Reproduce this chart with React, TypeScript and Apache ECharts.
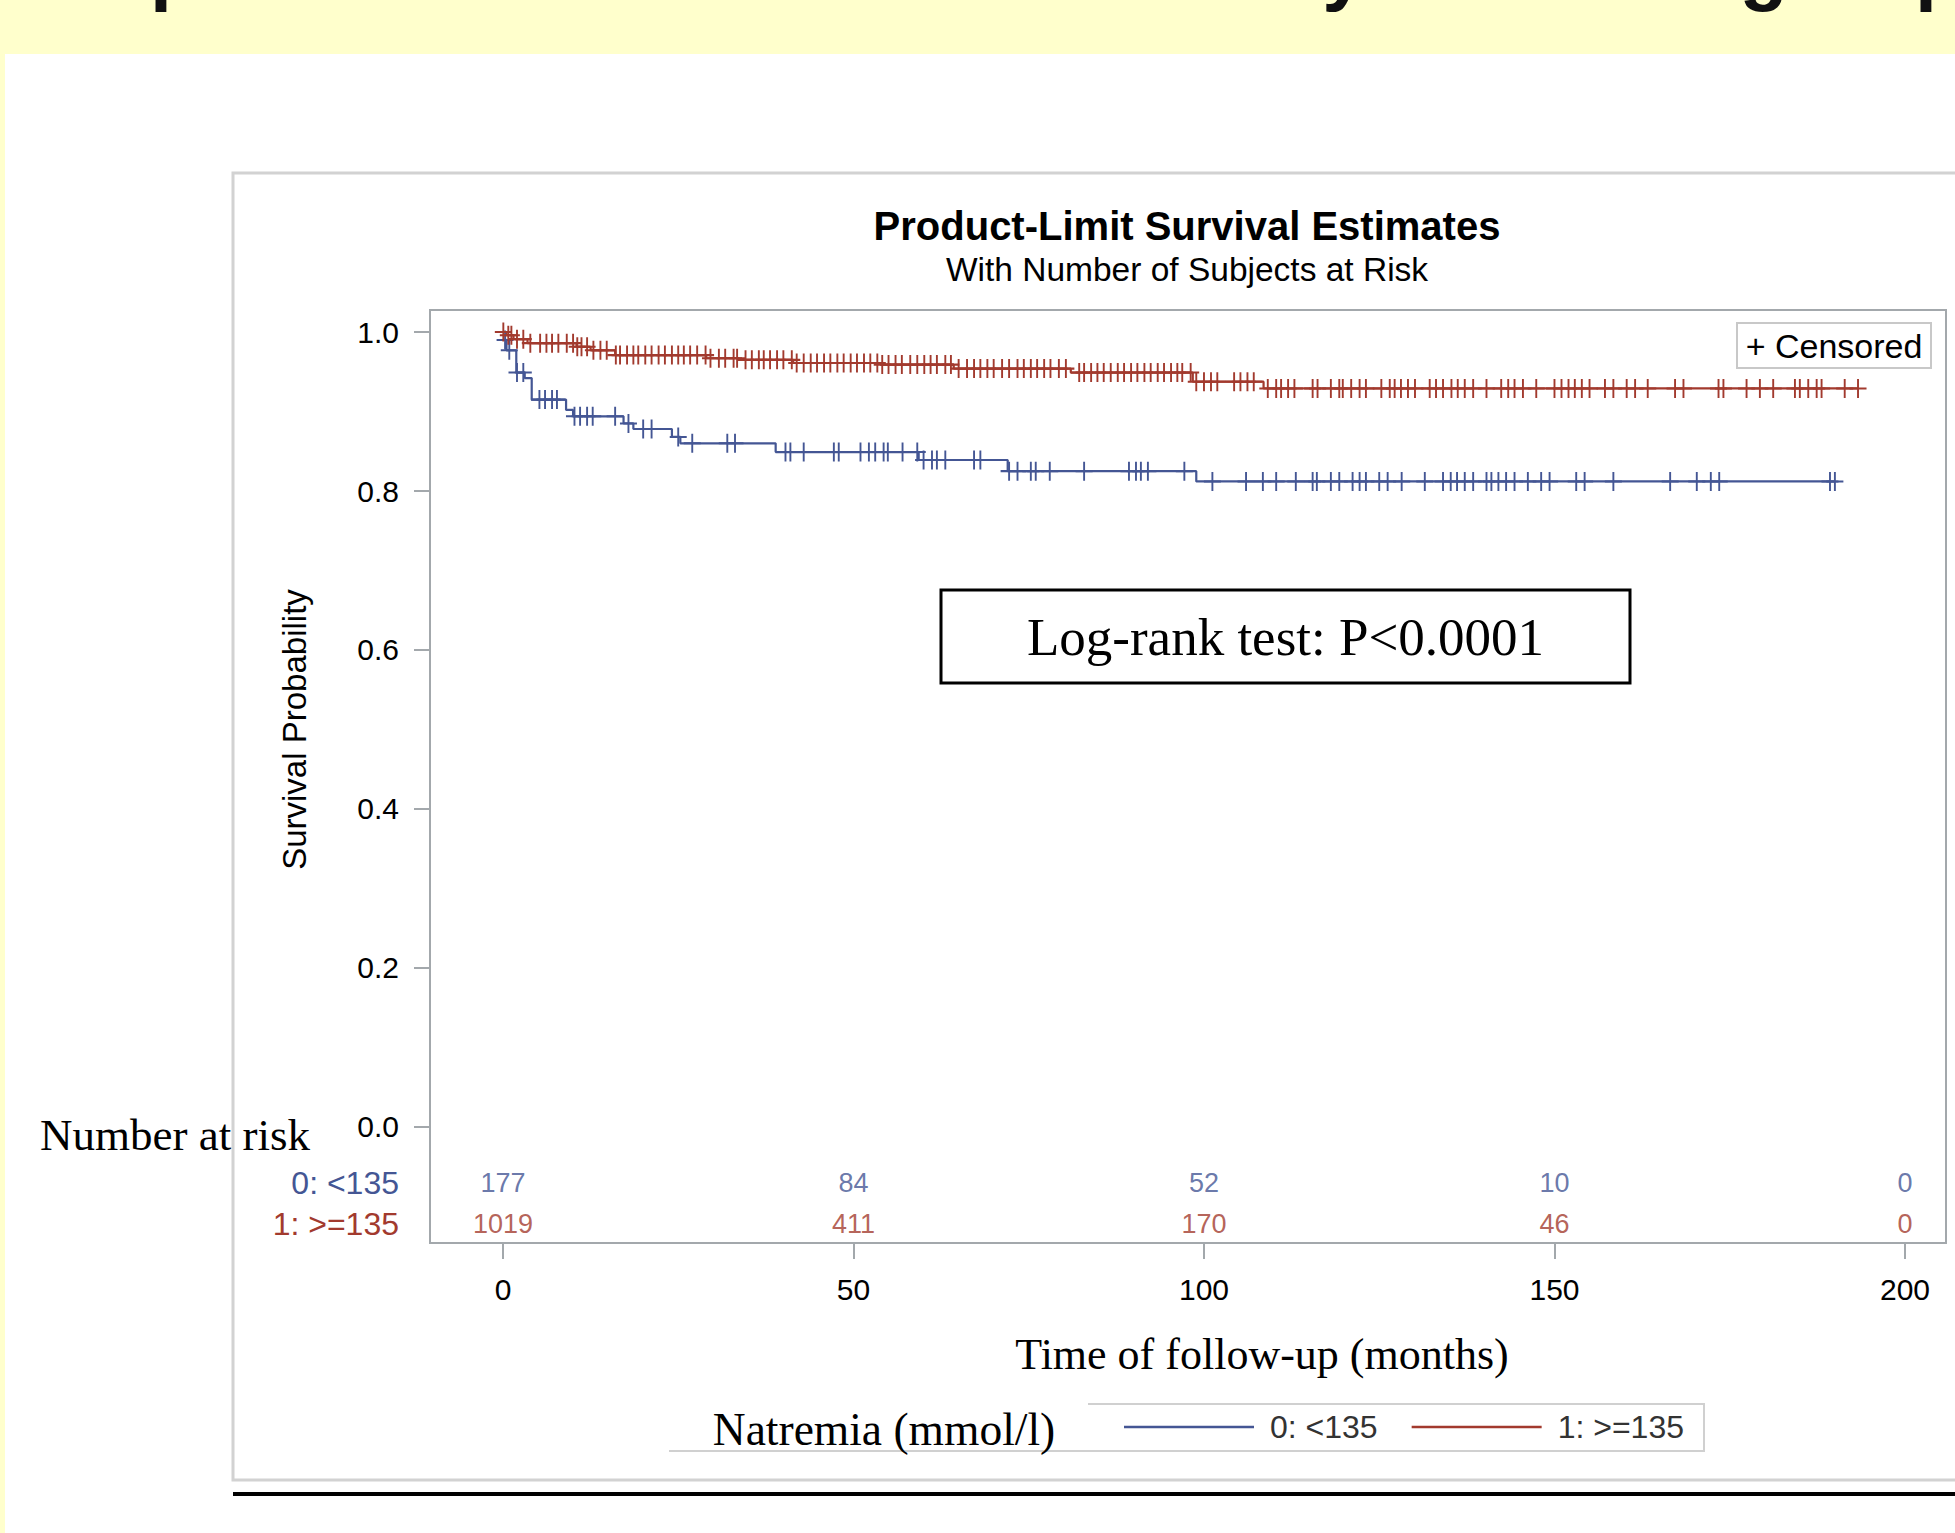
import React, { useEffect, useRef } from 'react';
import * as echarts from 'echarts';

// ---------- data ----------
const groupNames = ['0: <135', '1: >=135'];
const groupColors = ['#445694', '#A23A2E'];

// Kaplan-Meier step points (time in months, survival probability)
const blueTimes = [0, 0.5, 1.9, 3.1, 4.1, 9.0, 10.0, 17.2, 18.6, 24.1, 25.3, 38.9, 59.3, 72.0, 98.9, 190.0];
const blueSurv = [0.99, 0.977, 0.949, 0.942, 0.915, 0.902, 0.894, 0.885, 0.878, 0.868, 0.86, 0.849, 0.839, 0.825, 0.812, 0.812];
const redTimes = [0, 0.5, 1.5, 3.5, 10.5, 12.5, 16.0, 29.0, 33.6, 41.4, 54.0, 64.3, 81.0, 98.4, 108.5, 193.3];
const redSurv = [1.0, 0.996, 0.991, 0.986, 0.9815, 0.977, 0.971, 0.967, 0.965, 0.961, 0.959, 0.954, 0.949, 0.9375, 0.929, 0.929];

// censoring times
const blueCensor = [0.3, 0.9, 2.0, 2.9, 5.2, 6.0, 7.0, 7.7, 10.2, 11.0, 12.0, 12.8, 16.0, 17.9, 20.0, 21.2, 25.0, 27.0, 32.0, 33.1, 40.3, 41.0, 42.9, 47.2, 47.9, 51.0, 52.2, 53.1, 54.3, 54.9, 57.0, 59.1, 60.0, 61.2, 61.9, 63.1, 67.2, 68.1, 72.2, 73.4, 75.3, 76.0, 78.0, 82.9, 89.3, 90.3, 91.0, 92.0, 97.2, 101.2, 106.0, 108.4, 110.3, 113.1, 115.5, 116.1, 118.1, 119.3, 121.2, 122.2, 123.1, 125.0, 126.2, 128.2, 131.5, 134.1, 135.2, 136.1, 137.2, 138.4, 140.3, 141.0, 142.0, 143.1, 144.3, 146.2, 148.1, 149.3, 153.1, 154.3, 158.4, 166.5, 170.3, 172.3, 173.5, 189.3, 190.0];
const redCensor = [0.05, 0.76, 1.2, 2.0, 2.9, 3.9, 5.3, 6.2, 7.0, 7.9, 9.1, 10.0, 10.6, 11.2, 12.0, 12.9, 13.9, 14.8, 16.1, 16.7, 17.7, 18.6, 19.3, 20.3, 21.2, 22.2, 23.1, 24.1, 25.0, 25.8, 26.7, 27.7, 28.9, 29.6, 30.8, 31.7, 32.9, 33.4, 34.6, 35.5, 36.5, 37.2, 38.1, 39.1, 40.0, 41.2, 41.9, 42.9, 43.9, 44.8, 45.8, 46.7, 47.7, 48.6, 49.6, 50.5, 51.5, 52.4, 53.4, 54.1, 55.0, 56.0, 56.9, 58.1, 59.1, 60.1, 61.0, 61.9, 63.1, 63.9, 65.0, 66.2, 67.2, 68.1, 69.1, 70.0, 71.2, 72.2, 73.4, 74.3, 75.3, 76.2, 77.2, 78.1, 79.3, 80.3, 82.2, 82.9, 83.9, 84.8, 85.7, 86.7, 87.7, 88.6, 89.6, 90.5, 91.5, 92.4, 93.4, 94.3, 95.3, 96.2, 96.9, 98.1, 98.9, 100.0, 101.0, 101.9, 104.3, 105.2, 106.2, 107.1, 109.1, 110.3, 111.0, 112.0, 112.9, 115.5, 116.2, 118.1, 119.3, 119.8, 121.0, 122.2, 123.1, 125.3, 126.5, 127.2, 128.1, 129.1, 130.1, 132.2, 133.1, 134.1, 135.3, 136.2, 137.2, 138.4, 140.3, 142.4, 143.4, 144.3, 145.5, 147.4, 150.0, 151.0, 152.0, 152.9, 153.9, 155.0, 157.2, 158.4, 160.3, 161.5, 163.3, 167.2, 168.4, 173.4, 174.1, 177.4, 179.3, 181.2, 184.3, 185.0, 186.2, 187.4, 188.1, 191.4, 193.3];

// number at risk table
const riskTimes = [0, 50, 100, 150, 200];
const riskBlue = [177, 84, 52, 10, 0];
const riskRed = [1019, 411, 170, 46, 0];

const xTicks = [0, 50, 100, 150, 200];
const yTicks = [0, 0.2, 0.4, 0.6, 0.8, 1.0];

// ---------- helpers ----------
const SANS = '"Liberation Sans", Arial, sans-serif';
const SERIF = '"Liberation Serif", "Times New Roman", serif';
const FRAME = '#A3A8AC';
const PLUS = 'path://M8,0L8,16M0,8L16,8';

const XMIN = -10.41;
const XMAX = 205.85;
const YMIN = -0.146;
const YMAX = 1.0277;

function steps(times: number[], surv: number[]) {
  return times.map((t, i) => [t, surv[i]]);
}
function survAt(times: number[], surv: number[], t: number) {
  let s = surv[0];
  for (let i = 0; i < times.length; i++) {
    if (times[i] <= t) s = surv[i];
    else break;
  }
  return s;
}

function txt(x: number, y: number, text: string, font: string, fill: string, align = 'center', extra: any = {}) {
  return {
    type: 'text',
    x,
    y,
    z: 20,
    silent: true,
    ...extra,
    style: {
      text,
      font,
      fill,
      align,
      textAlign: align,
      verticalAlign: 'middle',
      textVerticalAlign: 'middle',
    },
  };
}

export default function App() {
  const ref = useRef<HTMLDivElement>(null);

  useEffect(() => {
    if (!ref.current) return;
    const chart = echarts.init(ref.current, null, { renderer: 'svg' });

    const censorSeries = (name: string, times: number[], surv: number[], cens: number[], color: string) => ({
      type: 'scatter',
      name,
      xAxisIndex: 0,
      yAxisIndex: 0,
      symbol: PLUS,
      symbolSize: [17, 19],
      silent: true,
      z: 4,
      itemStyle: { color: 'rgba(0,0,0,0)', borderColor: color, borderWidth: 2, opacity: 1 },
      data: cens.map((t) => [t, survAt(times, surv, t)]),
    });

    const riskSeries = (row: string, vals: number[], color: string) => ({
      type: 'scatter',
      name: 'risk ' + row,
      xAxisIndex: 1,
      yAxisIndex: 1,
      symbol: 'circle',
      symbolSize: 1,
      silent: true,
      itemStyle: { color: 'rgba(0,0,0,0)' },
      label: {
        show: true,
        position: 'inside',
        formatter: (p: any) => String(p.value[2]),
        fontSize: 27,
        fontFamily: SANS,
        color,
      },
      data: riskTimes.map((t, i) => [t, row, vals[i]]),
    });

    const option: any = {
      animation: false,
      backgroundColor: '#ffffff',
      textStyle: { fontFamily: SANS },
      grid: [
        { left: 430, top: 310, width: 1516, height: 933, show: true, borderColor: FRAME, borderWidth: 2, backgroundColor: 'rgba(0,0,0,0)', containLabel: false, outerBoundsMode: 'none' },
        { left: 430, top: 1162.5, width: 1516, height: 82, show: false, containLabel: false, outerBoundsMode: 'none' },
      ],
      xAxis: [
        {
          type: 'value', gridIndex: 0, min: XMIN, max: XMAX, position: 'bottom',
          axisLine: { show: false, onZero: false },
          splitLine: { show: false },
          axisTick: { show: true, inside: false, length: 16, lineStyle: { color: FRAME, width: 2 }, customValues: xTicks },
          axisLabel: { customValues: xTicks, margin: 31, fontSize: 30, color: '#000', fontFamily: SANS },
        },
        { type: 'value', gridIndex: 1, min: XMIN, max: XMAX, show: false, axisLine: { onZero: false } },
      ],
      yAxis: [
        {
          type: 'value', gridIndex: 0, min: YMIN, max: YMAX, position: 'left',
          axisLine: { show: false, onZero: false },
          splitLine: { show: false },
          axisTick: { show: true, inside: false, length: 16, lineStyle: { color: FRAME, width: 2 }, customValues: yTicks },
          axisLabel: { customValues: yTicks, formatter: (v: number) => v.toFixed(1), margin: 31, fontSize: 30, color: '#000', fontFamily: SANS },
        },
        {
          type: 'category', gridIndex: 1, data: groupNames, inverse: true,
          axisLine: { show: false, onZero: false }, axisTick: { show: false }, splitLine: { show: false },
          axisLabel: {
            show: true, interval: 0, hideOverlap: false,
            margin: 31, fontSize: 32, fontFamily: SANS,
            color: (v: string) => groupColors[Math.max(0, groupNames.indexOf(v))],
          },
        },
      ],
      legend: {
        data: groupNames,
        left: 1119,
        top: 1406,
        icon: 'rect',
        itemWidth: 130,
        itemHeight: 2.5,
        itemGap: 34,
        selectedMode: false,
        textStyle: { fontSize: 32, color: '#333', fontFamily: SANS, padding: [0, 0, 0, 11] },
      },
      series: [
        {
          type: 'line', name: groupNames[0], xAxisIndex: 0, yAxisIndex: 0, step: 'end', symbol: 'none', z: 3,
          lineStyle: { color: groupColors[0], width: 2.2 }, itemStyle: { color: groupColors[0] },
          data: steps(blueTimes, blueSurv),
        },
        {
          type: 'line', name: groupNames[1], xAxisIndex: 0, yAxisIndex: 0, step: 'end', symbol: 'none', z: 3,
          lineStyle: { color: groupColors[1], width: 2.2 }, itemStyle: { color: groupColors[1] },
          data: steps(redTimes, redSurv),
        },
        censorSeries('censor 0', blueTimes, blueSurv, blueCensor, groupColors[0]),
        censorSeries('censor 1', redTimes, redSurv, redCensor, groupColors[1]),
        riskSeries(groupNames[0], riskBlue, groupColors[0]),
        riskSeries(groupNames[1], riskRed, groupColors[1]),
      ],
      graphic: {
        elements: [
          { type: 'rect', z: 0, silent: true, shape: { x: 0, y: 0, width: 1955, height: 54 }, style: { fill: '#FFFFCC' } },
          { type: 'rect', z: 0, silent: true, shape: { x: 0, y: 0, width: 5, height: 1533 }, style: { fill: '#FFFFCC' } },
          txt(49, -33, 'Kaplan-Meier survival estimates by natremia group', 'bold 79px ' + SANS, '#111', 'left'),
          { type: 'rect', z: 1, silent: true, shape: { x: 233, y: 173, width: 1800, height: 1307 }, style: { fill: 'none', stroke: '#D2D2D2', lineWidth: 3 } },
          { type: 'line', z: 1, silent: true, shape: { x1: 233, y1: 1494, x2: 1955, y2: 1494 }, style: { stroke: '#000', lineWidth: 4 } },
          txt(1187, 226, 'Product-Limit Survival Estimates', 'bold 40px ' + SANS, '#000'),
          txt(1187, 269, 'With Number of Subjects at Risk', '33.5px ' + SANS, '#000'),
          txt(294, 729.5, 'Survival Probability', '33px ' + SANS, '#000', 'center', { rotation: Math.PI / 2 }),
          { type: 'rect', z: 15, silent: true, shape: { x: 1737, y: 323, width: 194, height: 45 }, style: { fill: '#fff', stroke: '#C8C8C8', lineWidth: 2 } },
          txt(1834, 346, '+ Censored', '34px ' + SANS, '#000'),
          { type: 'rect', z: 15, silent: true, shape: { x: 941, y: 590, width: 689, height: 93 }, style: { fill: '#fff', stroke: '#000', lineWidth: 3 } },
          txt(1285.5, 636.5, 'Log-rank test: P<0.0001', '53px ' + SERIF, '#000'),
          txt(40, 1135, 'Number at risk', '45px ' + SERIF, '#000', 'left'),
          txt(1262, 1354, 'Time of follow-up (months)', '44px ' + SERIF, '#000'),
          txt(884, 1429, 'Natremia (mmol/l)', '45.5px ' + SERIF, '#000'),
          { type: 'polyline', z: 1, silent: true, shape: { points: [[669, 1451], [1704, 1451], [1704, 1404], [1088, 1404]] }, style: { fill: 'none', stroke: '#D0D0D0', lineWidth: 2 } },
        ],
      },
    };

    chart.setOption(option);
    return () => chart.dispose();
  }, []);

  return (
    <div
      ref={ref}
      style={{ position: 'fixed', left: 0, top: 0, width: 1955, height: 1533, background: '#fff' }}
    />
  );
}
